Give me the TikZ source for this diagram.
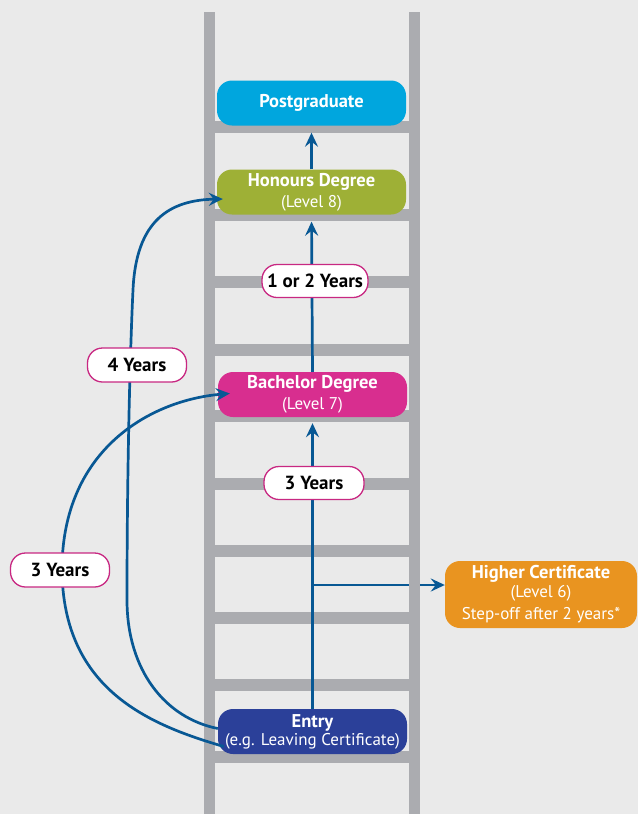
\documentclass[tikz,border=0pt]{standalone}
\usepackage{fontspec}
\setmainfont{PT Sans}
\usetikzlibrary{arrows.meta}

\definecolor{Backdrop}{RGB}{234,234,234}
\definecolor{Rung}{RGB}{171,172,176}
\definecolor{Postgrad}{RGB}{0,166,222}
\definecolor{Honours}{RGB}{158,176,54}
\definecolor{Bachelor}{RGB}{216,46,143}
\definecolor{Certificate}{RGB}{233,148,32}
\definecolor{Entry}{RGB}{43,64,153}
\definecolor{Pathblue}{RGB}{8,88,148}
\definecolor{Tagline}{RGB}{200,40,130}

\newcommand{\drawrung}[1]{% Parameter: height of the rung
  \fill[Rung] (215,#1-6) rectangle (409,#1+6);
}
\newcommand{\drawrail}[1]{% Parameter: left edge of the rail
  \fill[Rung] (#1,12) rectangle ++(11,802);
}
\newcommand{\leveltitle}[1]{% Parameter: name of the level
  {\fontsize{18.5}{21}\selectfont\bfseries #1}%
}

\begin{document}
\begin{tikzpicture}[x=1pt,y=-1pt,
    levelbox/.style={rounded corners=15pt,text=white,minimum width=189pt,minimum height=45pt,
      inner sep=0pt,align=center,font=\fontsize{17}{21}\selectfont},
    yearslabel/.style={draw=Tagline,line width=1.3pt,fill=white,rounded corners=15pt,
      minimum width=100pt,minimum height=33pt,inner sep=0pt,font=\fontsize{19}{21}\selectfont\bfseries},
    arrowline/.style={draw=Pathblue,line width=2.7pt,-{Stealth[length=14pt,width=13pt,inset=5pt]}}]
    \fill[Backdrop] (0,0) rectangle (638,814);
    \useasboundingbox (0,0) rectangle (638,814);
    % the ladder
    \drawrung{127}
    \drawrung{215}
    \drawrung{282}
    \drawrung{350}
    \drawrung{416}
    \drawrung{484}
    \drawrung{551}
    \drawrung{618}
    \drawrung{685}
    \drawrung{757}
    \drawrail{204}
    % the levels
    \node[levelbox,fill=Postgrad] (postgrad) at (311.5,103) {\leveltitle{Postgraduate}};
    \node[levelbox,fill=Honours] (honours) at (311.5,192) {\leveltitle{Honours Degree}\\(Level 8)};
    \node[levelbox,fill=Bachelor] (bachelor) at (312.5,394.5) {\leveltitle{Bachelor Degree}\\(Level 7)};
    \node[levelbox,fill=Entry] (entry) at (312.5,731.5) {\leveltitle{Entry}\\[-3pt](e.g. Leaving Certificate)};
    \node[levelbox,fill=Certificate,minimum width=192pt,minimum height=67pt] (highercert) at (541,594.5)
      {\leveltitle{Higher Certificate}\\[-2pt](Level 6)\\[1pt]Step-off after 2 years*};
    % step-off runs under the right rail
    \coordinate (split) at (312,585);
    \draw[arrowline] (split) -- (split -| highercert.west);
    \drawrail{409}
    % straight up the ladder
    \draw[arrowline,shorten >=6pt] (entry.north) -- (bachelor.south);
    \draw[arrowline,shorten >=7pt] (bachelor.north) -- (honours.south);
    \draw[arrowline,shorten >=7pt] (honours.north) -- (postgrad.south);
    % the long ways round
    \draw[arrowline] ([yshift=3pt]entry.west) .. controls (165,718) and (127,670) .. (127,600)
      .. controls (127,450) and (131,330) .. (133,290)
      .. controls (136,220) and (170,200) .. ([xshift=6pt,yshift=-7pt]honours.west);
    \draw[arrowline] ([xshift=6pt,yshift=-15pt]entry.west) .. controls (150,725) and (63,690) .. (62,570)
      .. controls (62,450) and (150,400) .. ([xshift=12pt,yshift=1pt]bachelor.west);
    % the years
    \node[yearslabel,minimum width=106pt] (oneortwo) at (315,281) {1 or 2 Years};
    \node[yearslabel] (threeup) at (314,483) {3 Years};
    \node[yearslabel,minimum width=99pt,minimum height=34pt] (fouryrs) at (137,365) {4 Years};
    \node[yearslabel,minimum width=99pt,minimum height=34pt] (threeleft) at (60,570) {3 Years};
  \end{tikzpicture}
\end{document}
